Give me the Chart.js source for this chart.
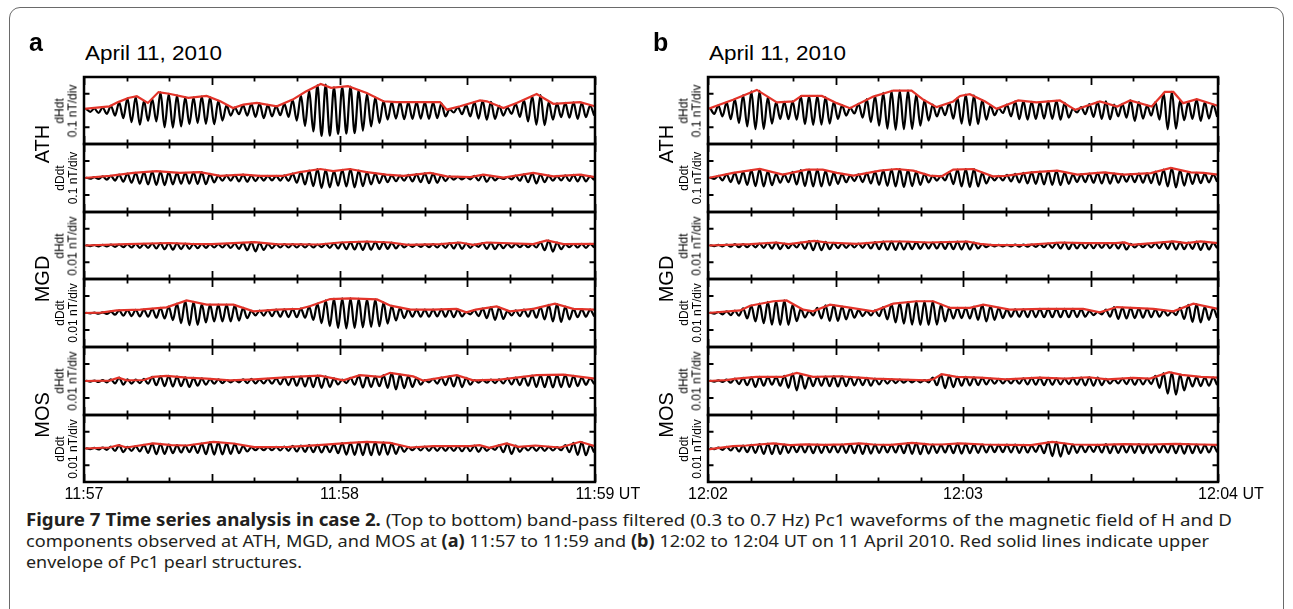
<!DOCTYPE html>
<html><head><meta charset="utf-8">
<script src="https://cdn.jsdelivr.net/npm/chart.js@4.4.0/dist/chart.umd.min.js"></script>
<style>
html,body{margin:0;padding:0;background:#fff;}
body{width:1293px;height:609px;position:relative;overflow:hidden;font-family:"Liberation Sans",Arial,sans-serif;color:#000;}
#frame{position:absolute;left:9px;top:7px;width:1275px;height:660px;border:1.5px solid #6a6a6a;border-radius:11px;box-sizing:border-box;}
canvas{position:absolute;}
.t{position:absolute;white-space:nowrap;line-height:1;}
.rot{position:absolute;white-space:nowrap;text-align:center;transform:translate(-50%,-50%) rotate(-90deg);}
.cl{position:absolute;left:26px;white-space:nowrap;font-family:"Noto Sans","Open Sans",sans-serif;font-size:17px;line-height:20px;color:#231f20;transform-origin:0 0;}
</style>
</head><body>
<div id="frame"></div>
<div class="cl" id="c1"><b>Figure 7 Time series analysis in case 2.</b> (Top to bottom) band-pass filtered (0.3 to 0.7 Hz) Pc1 waveforms of the magnetic field of H and D</div>
<div class="cl" id="c2">components observed at ATH, MGD, and MOS at <b>(a)</b> 11:57 to 11:59 and <b>(b)</b> 12:02 to 12:04 UT on 11 April 2010. Red solid lines indicate upper</div>
<div class="cl" id="c3">envelope of Pc1 pearl structures.</div>
<script>
// ---------- labels ----------
const dateLabel = 'April 11, 2010';
const stations = ['ATH', 'MGD', 'MOS'];
const compLabels = ['dHdt', 'dDdt', 'dHdt', 'dDdt', 'dHdt', 'dDdt'];
const divLabels = ['0.1 nT/div', '0.1 nT/div', '0.01 nT/div', '0.01 nT/div', '0.01 nT/div', '0.01 nT/div'];
const timeTickSec = [0, 60, 120];
const timeLabelsA = ['11:57', '11:58', '11:59'];
const timeLabelsB = ['12:02', '12:03', '12:04'];
const timeUnit = 'UT';
const yTicks = [-100, 100];           // +/- 1 division (values in 1/100 div)

// ---------- wave extrema (peak / trough of each cycle, 1/100 div) ----------
const a1Hi = [10,12,18,28,48,72,82,58,70,108,100,90,80,78,84,80,58,32,18,32,40,42,34,26,40,62,90,120,150,155,138,140,143,122,100,78,56,50,50,48,50,48,48,42,8,20,32,50,58,52,28,18,40,62,88,92,50,42,45,48,46,30];
const a1Lo = [-8,-15,-20,-30,-45,-70,-85,-62,-65,-100,-102,-95,-82,-75,-80,-82,-60,-30,-22,-30,-38,-45,-35,-28,-38,-60,-92,-125,-152,-150,-140,-138,-135,-120,-95,-75,-55,-48,-52,-50,-48,-50,-45,-35,-12,-22,-35,-48,-55,-50,-30,-20,-38,-65,-85,-88,-55,-40,-42,-50,-40,-30];
const a2Hi = [2,5,9,13,20,26,31,35,38,38,34,31,31,33,34,24,14,15,18,20,16,13,13,13,15,26,36,44,52,48,41,48,52,44,35,28,21,17,14,18,23,28,26,16,9,7,6,12,19,12,4,6,14,22,29,22,14,12,15,18,18,10];
const a2Lo = [-4,-6,-10,-15,-22,-28,-33,-38,-40,-42,-38,-33,-33,-35,-36,-26,-16,-16,-20,-22,-18,-15,-14,-15,-17,-28,-38,-48,-58,-55,-45,-50,-55,-48,-38,-30,-24,-19,-16,-20,-25,-30,-28,-18,-10,-8,-8,-14,-22,-14,-6,-8,-16,-25,-32,-25,-16,-14,-17,-20,-20,-12];
const a3Hi = [2,3,4,5,6,8,9,10,12,14,15,13,12,10,9,8,8,10,12,16,20,16,10,8,8,8,8,8,6,10,14,18,20,22,24,22,20,17,10,5,6,7,8,10,14,18,12,6,15,16,12,10,9,8,8,20,30,18,8,9,10,10];
const a3Lo = [-4,-5,-6,-8,-10,-12,-14,-14,-18,-22,-25,-22,-20,-16,-14,-12,-12,-15,-20,-28,-35,-26,-16,-12,-12,-12,-12,-12,-10,-14,-18,-22,-24,-26,-25,-22,-20,-18,-12,-8,-8,-10,-12,-14,-18,-20,-14,-8,-20,-22,-16,-12,-10,-10,-12,-28,-36,-22,-10,-12,-14,-12];
const a4Hi = [1,2,4,8,15,17,19,20,25,30,38,55,72,65,52,49,49,49,46,30,12,14,17,20,22,24,26,38,55,75,84,86,86,84,82,80,62,42,30,21,20,20,20,22,23,20,6,15,26,35,32,12,15,20,24,35,48,52,38,24,22,20];
const a4Lo = [-2,-4,-6,-10,-16,-18,-20,-22,-28,-32,-42,-60,-72,-70,-55,-50,-50,-50,-45,-30,-14,-15,-18,-22,-24,-25,-28,-40,-60,-78,-88,-90,-88,-85,-82,-78,-62,-44,-30,-22,-22,-22,-20,-22,-24,-20,-8,-18,-30,-40,-35,-14,-18,-22,-28,-38,-50,-52,-38,-25,-22,-20];
const a5Hi = [2,3,5,10,20,10,8,12,24,28,30,26,22,18,15,12,9,6,6,10,12,10,12,16,20,24,26,30,32,28,15,8,18,32,30,26,34,46,38,30,18,6,12,20,28,32,18,6,7,8,10,16,20,25,32,33,34,35,36,30,22,16];
const a5Lo = [-4,-6,-8,-14,-22,-15,-12,-16,-25,-30,-32,-30,-35,-28,-22,-16,-12,-8,-8,-12,-14,-14,-16,-20,-24,-28,-32,-36,-40,-35,-20,-12,-22,-38,-35,-30,-40,-50,-42,-35,-22,-8,-15,-24,-32,-36,-22,-10,-10,-12,-14,-20,-24,-28,-35,-36,-38,-36,-35,-30,-22,-18];
const a6Hi = [2,4,6,12,20,10,14,22,30,28,24,20,18,22,30,38,36,32,28,15,8,8,8,10,12,16,18,20,22,20,26,32,34,36,40,38,36,32,18,8,10,12,12,12,13,14,14,18,12,6,20,30,18,10,12,12,10,8,20,34,38,20];
const a6Lo = [-4,-6,-8,-15,-22,-14,-18,-26,-34,-32,-28,-24,-22,-26,-34,-36,-35,-32,-28,-18,-10,-10,-10,-12,-14,-18,-20,-22,-24,-22,-28,-36,-38,-40,-40,-38,-36,-32,-20,-10,-12,-14,-14,-14,-15,-16,-16,-20,-14,-8,-22,-32,-20,-12,-14,-14,-12,-10,-22,-38,-40,-24];
const b1Hi = [15,30,48,68,92,115,118,80,50,52,54,86,87,87,80,52,32,16,40,68,88,105,118,119,119,95,62,35,25,45,75,95,90,62,30,15,35,55,56,52,50,54,58,45,10,20,38,52,54,35,40,60,50,30,50,105,112,60,50,66,50,35];
const b1Lo = [-20,-35,-52,-75,-95,-112,-110,-78,-50,-52,-55,-82,-86,-84,-78,-50,-30,-18,-42,-70,-90,-108,-115,-112,-110,-90,-60,-35,-28,-48,-78,-88,-82,-55,-28,-15,-35,-52,-55,-50,-48,-50,-55,-42,-12,-22,-38,-50,-52,-35,-42,-62,-48,-30,-55,-112,-108,-58,-50,-62,-48,-38];
const b2Hi = [3,12,22,31,38,46,53,40,25,22,36,46,49,49,42,32,24,16,22,30,38,45,50,52,46,38,25,13,12,35,50,52,52,30,12,12,18,24,30,34,37,40,42,32,22,22,26,30,32,26,21,23,26,28,38,50,58,46,35,30,26,21];
const b2Lo = [-5,-14,-24,-33,-40,-48,-50,-42,-28,-25,-38,-48,-50,-50,-44,-34,-25,-18,-24,-32,-40,-46,-50,-52,-48,-40,-26,-15,-14,-36,-50,-52,-50,-32,-14,-14,-20,-26,-32,-35,-38,-40,-42,-34,-24,-24,-28,-32,-33,-28,-22,-24,-28,-30,-40,-50,-55,-45,-35,-30,-26,-22];
const b3Hi = [2,4,6,8,8,9,12,16,18,12,10,18,26,28,22,16,12,10,12,16,20,24,24,24,22,20,18,18,20,22,24,24,18,8,4,4,4,5,5,6,8,12,16,18,16,14,14,14,14,15,18,10,8,10,14,20,24,20,18,24,22,15];
const b3Lo = [-4,-5,-7,-10,-10,-11,-14,-18,-22,-16,-12,-20,-28,-28,-22,-16,-14,-12,-14,-18,-22,-25,-26,-24,-22,-20,-18,-18,-20,-22,-24,-24,-18,-10,-6,-6,-6,-7,-7,-8,-10,-14,-18,-22,-18,-16,-16,-15,-16,-18,-24,-12,-10,-12,-16,-20,-24,-22,-20,-26,-24,-16];
const b4Hi = [3,6,10,14,28,44,55,65,70,74,48,25,12,30,45,46,38,28,18,12,15,35,52,60,66,69,69,69,50,32,30,30,38,48,40,30,22,21,22,23,24,24,24,24,24,22,12,6,20,34,32,30,27,25,22,15,10,30,48,52,38,28];
const b4Lo = [-4,-8,-12,-16,-32,-50,-60,-68,-70,-70,-48,-26,-14,-32,-46,-46,-38,-28,-18,-14,-18,-38,-55,-62,-68,-70,-70,-68,-50,-32,-30,-32,-40,-50,-40,-30,-22,-22,-24,-24,-25,-25,-25,-25,-24,-22,-12,-8,-22,-35,-32,-30,-28,-25,-22,-16,-12,-35,-52,-55,-40,-28];
const b5Hi = [2,4,8,14,18,22,24,24,24,30,44,40,26,25,26,28,28,24,20,18,14,12,10,8,7,6,5,20,38,32,24,24,22,18,14,12,10,12,16,18,20,18,16,14,18,20,22,20,12,10,14,18,16,14,30,46,50,38,26,24,22,20];
const b5Lo = [-4,-6,-10,-18,-25,-35,-28,-22,-28,-40,-55,-45,-30,-28,-30,-32,-30,-26,-24,-28,-20,-15,-12,-10,-8,-8,-8,-25,-42,-36,-28,-26,-24,-20,-16,-14,-14,-16,-20,-22,-24,-22,-20,-18,-22,-26,-28,-24,-16,-14,-18,-22,-20,-18,-40,-75,-80,-55,-32,-30,-28,-24];
const b6Hi = [2,6,10,14,18,22,26,30,30,24,20,22,24,24,22,22,24,26,30,28,24,22,22,26,32,34,28,24,22,26,30,28,26,24,22,22,24,24,22,18,24,38,40,30,24,20,18,22,26,24,22,24,26,24,22,22,26,28,26,24,22,20];
const b6Lo = [-4,-8,-12,-18,-22,-26,-32,-34,-32,-26,-22,-24,-28,-26,-24,-24,-26,-28,-32,-30,-26,-24,-24,-28,-32,-34,-30,-26,-24,-28,-30,-28,-26,-24,-22,-22,-24,-26,-24,-20,-28,-45,-48,-32,-26,-22,-20,-24,-28,-26,-24,-26,-28,-26,-24,-24,-28,-30,-28,-26,-24,-22];

// ---------- red upper envelopes [seconds, 1/100 div] ----------
const a1Env = [[0,10],[6,25],[8,50],[10.4,75],[12.4,85],[15,45],[17.5,110],[20,100],[24.5,75],[28.8,87],[32,55],[35,15],[37.4,35],[40.6,45],[45.3,25],[49,65],[52,112],[55.6,158],[58,135],[62,145],[66.4,105],[70.3,55],[73.4,50],[78,50],[83.6,50],[85.2,5],[88.3,25],[93,60],[94.6,55],[98.5,15],[101.6,45],[106.3,98],[110.2,40],[116.5,50],[120,25]];
const a2Env = [[0,0],[6,13],[11.6,30],[17,40],[22.5,30],[27.2,35],[32,13],[37.4,20],[41.3,13],[46.8,13],[50.7,35],[55.5,53],[58.5,40],[62.4,53],[66.4,35],[71,20],[75,13],[81.3,30],[85.2,10],[90.7,5],[93.8,20],[98.5,2],[105.5,30],[110.2,10],[116.5,20],[120,5]];
const a3Env = [[0,0],[10,8],[20,15],[25,10],[30,8],[40,20],[45,8],[55,6],[60.1,18],[66.4,24],[72,18],[76,4],[83.6,8],[88.3,18],[91.4,4],[94.6,18],[105.5,8],[108.7,30],[112.6,8],[120,10]];
const a4Env = [[0,0],[4,2],[7.7,15],[13.2,20],[19.4,33],[24.1,74],[28.8,49],[35.1,49],[39.8,10],[45.3,20],[50.7,25],[53,40],[57.8,82],[62.5,86],[68.8,80],[72,43],[76.7,20],[82,20],[87.5,24],[89.8,4],[92,20],[96.9,39],[100,10],[105.5,24],[110.6,55],[114.9,24],[120,20]];
const a5Env = [[0,0],[6,2],[8.1,20],[10,4],[14,6],[16.3,24],[19.4,30],[24.1,20],[28.8,14],[34.3,4],[40,10],[49.1,24],[55.4,32],[60.9,4],[64.8,34],[69.5,24],[71.9,48],[77.3,27],[79.7,2],[87.5,34],[91.4,4],[97.7,8],[106.3,34],[112.6,37],[120,14]];
const a6Env = [[0,0],[6,6],[8.1,20],[10,6],[16.3,30],[20.5,20],[24.1,18],[30.4,39],[35.1,30],[40,8],[48,10],[52,16],[55,20],[62.4,34],[66.4,40],[71.9,34],[76.6,6],[82,14],[90.6,14],[92.9,20],[95.2,4],[99.2,30],[102,10],[106,18],[111.8,6],[116.5,40],[120,14]];
const b1Env = [[0,9],[5.9,64],[11.5,123],[16.2,48],[20.1,54],[22,87],[26.8,87],[30.3,44],[33.4,14],[38.9,83],[43.6,119],[47.9,119],[50.7,64],[53.8,20],[57.7,54],[59.3,87],[61.6,97],[65.2,54],[67.9,10],[73,60],[77.3,48],[82.8,60],[86.4,4],[92.2,54],[96.3,24],[99.3,60],[104.4,24],[107.5,111],[109.5,111],[111.8,44],[115,68],[120,28]];
const b2Env = [[0,0],[5.9,30],[12.2,53],[17.6,20],[23.2,49],[27,49],[30.3,30],[34.2,14],[40.5,43],[44.4,53],[48.3,43],[52.2,14],[55,10],[57.7,49],[62.4,53],[67,10],[70,12],[76,33],[82.2,43],[86.9,20],[93.2,33],[97.9,20],[104.2,29],[108.9,59],[113.6,33],[116.6,30],[120,20]];
const b3Env = [[0,0],[10,8],[16,18],[19,8],[25,28],[28,18],[35,10],[42,24],[46,24],[52,18],[61,24],[64,10],[67,2],[75,4],[83,18],[89,14],[95.9,14],[98,18],[99.6,4],[109.5,24],[112.6,14],[115.9,24],[120,14]];
const b4Env = [[0,0],[7.6,15],[9.9,43],[15.4,69],[18.5,74],[22.4,20],[24.7,10],[28.7,49],[32.6,35],[38.9,10],[43.6,55],[49.1,69],[53,69],[57,30],[61.6,30],[64.8,49],[71,20],[78.9,24],[88.3,24],[92.2,4],[96.2,35],[104.8,24],[109.5,10],[114.2,55],[120,24]];
const b5Env = [[0,0],[4.3,5],[6.7,14],[11.4,24],[17.6,24],[20.9,48],[24.7,24],[31,28],[35.7,20],[38.9,14],[45.9,8],[51.4,4],[53,10],[55,40],[58.5,24],[64,20],[70,10],[78,20],[84,14],[89.5,22],[94,10],[100,18],[104,14],[108.5,52],[111.5,36],[116,24],[120,20]];
const b6Env = [[0,-5],[5.9,14],[9,18],[15.4,30],[19.3,20],[23,25],[27.5,22],[32,25],[35.7,30],[38.9,24],[43,22],[48,34],[52,25],[55,24],[59.2,30],[65,24],[70,22],[76,20],[81,40],[86,24],[92,22],[98,26],[104,24],[110,28],[116,24],[120,22]];

// ---------- layout ----------
const ROWS = [77, 144, 212, 279, 347, 415, 482];
const CYCLE_START = 0.5, HALF_PERIOD = 0.97;
const RED = '#e3342a';

const panels = [
  {letter: 'a', left: 84, width: 511, times: timeLabelsA,
   subs: [[a1Hi,a1Lo,a1Env],[a2Hi,a2Lo,a2Env],[a3Hi,a3Lo,a3Env],[a4Hi,a4Lo,a4Env],[a5Hi,a5Lo,a5Env],[a6Hi,a6Lo,a6Env]]},
  {letter: 'b', left: 708, width: 510, times: timeLabelsB,
   subs: [[b1Hi,b1Lo,b1Env],[b2Hi,b2Lo,b2Env],[b3Hi,b3Lo,b3Env],[b4Hi,b4Lo,b4Env],[b5Hi,b5Lo,b5Env],[b6Hi,b6Lo,b6Env]]}
];

function wavePoints(hi, lo) {
  const pts = [];
  for (let i = 0; i < hi.length; i++) {
    const t = CYCLE_START + 2 * HALF_PERIOD * i;
    pts.push({x: t, y: hi[i]});
    pts.push({x: t + HALF_PERIOD, y: lo[i]});
  }
  return pts;
}

const frameTicks = {
  id: 'frameTicks',
  afterDatasetsDraw(chart, args, o) {
    const {ctx, chartArea: a, scales: {x, y}} = chart;
    ctx.save();
    ctx.strokeStyle = '#000';
    ctx.lineCap = 'butt';
    ctx.lineWidth = 1.8;
    ctx.beginPath();
    for (let s = 0; s <= 120; s += 10) {
      const px = Math.round(x.getPixelForValue(s)) + 0.5;
      const L = (s % 30 === 0) ? 8 : 4.5;
      ctx.moveTo(px, a.top); ctx.lineTo(px, a.top + L);
      ctx.moveTo(px, a.bottom); ctx.lineTo(px, a.bottom - L);
    }
    yTicks.forEach(v => {
      const py = y.getPixelForValue(v);
      ctx.moveTo(a.left, py); ctx.lineTo(a.left + 5.5, py);
      ctx.moveTo(a.right, py); ctx.lineTo(a.right - 5.5, py);
    });
    ctx.stroke();
    ctx.lineWidth = 2.5;
    ctx.strokeRect(a.left, a.top, a.right - a.left, a.bottom - a.top);
    if (o.labels) {
      ctx.font = '16px "Liberation Sans", Arial, sans-serif';
      ctx.fillStyle = '#000';
      ctx.textAlign = 'left';
      ctx.textBaseline = 'alphabetic';
      o.labels.forEach((lab, i) => {
        const px = x.getPixelForValue(timeTickSec[i]);
        const w = ctx.measureText(lab).width;
        const txt = (i === o.labels.length - 1) ? lab + ' ' + timeUnit : lab;
        ctx.fillText(txt, px - w / 2, a.bottom + 17);
      });
    }
    ctx.restore();
  }
};

function addText(cls, html, css) {
  const d = document.createElement('div');
  d.className = cls; d.innerHTML = html;
  Object.assign(d.style, css);
  document.body.appendChild(d);
  return d;
}

panels.forEach(p => {
  p.subs.forEach((s, k) => {
    const top = ROWS[k], bottom = ROWS[k + 1];
    const isBottom = k === 5;
    const pad = {left: isBottom ? 40 : 6, right: isBottom ? 80 : 6, top: 6, bottom: isBottom ? 30 : 6};
    const w = p.width + pad.left + pad.right, h = bottom - top + pad.top + pad.bottom;
    const cv = document.createElement('canvas');
    cv.width = w; cv.height = h;
    Object.assign(cv.style, {left: (p.left - pad.left) + 'px', top: (top - pad.top) + 'px', width: w + 'px', height: h + 'px'});
    document.body.appendChild(cv);
    new Chart(cv, {
      type: 'line',
      data: {datasets: [
        {data: s[2].map(q => ({x: q[0], y: q[1]})), borderColor: RED, borderWidth: 2.2, pointRadius: 0, tension: 0, fill: false},
        {data: wavePoints(s[0], s[1]), borderColor: '#000', borderWidth: 2.2, pointRadius: 0, tension: 0.4, cubicInterpolationMode: 'monotone', fill: false}
      ]},
      options: {
        responsive: false, maintainAspectRatio: false, animation: false, devicePixelRatio: 1, events: [],
        layout: {padding: pad},
        scales: {
          x: {type: 'linear', min: 0, max: 120, display: false},
          y: {type: 'linear', min: -200, max: 200, display: false}
        },
        plugins: {legend: {display: false}, tooltip: {enabled: false},
          frameTicks: {labels: isBottom ? p.times : null}}
      },
      plugins: [frameTicks]
    });
    // side labels
    const cy = (top + bottom) / 2;
    addText('rot', compLabels[k] + '<br>' + divLabels[k],
      {left: (p.left - 18) + 'px', top: cy + 'px', fontSize: '12px', lineHeight: '12.5px'});
    if (k % 2 === 1) {
      addText('rot', stations[(k - 1) / 2], {left: (p.left - 42) + 'px', top: top + 'px', fontSize: '20px', lineHeight: '20px'});
    }
  });
  addText('t', p.letter, {left: (p.left - 55) + 'px', top: '30px', fontSize: '25px', fontWeight: 'bold'});
  const dl = addText('t', dateLabel, {left: (p.left + 1) + 'px', top: '43px', fontSize: '20px', transformOrigin: '0 0'});
  dl.dataset.fit = 137;
});

// fit text widths
document.querySelectorAll('[data-fit]').forEach(el => {
  const r = el.getBoundingClientRect().width;
  el.style.transform = 'scaleX(' + (el.dataset.fit / r) + ')';
});
const capFit = [['c1', 510, 1206], ['c2', 531, 1183], ['c3', 552, 276]];
capFit.forEach(([id, top, wid]) => {
  const el = document.getElementById(id);
  el.style.top = top + 'px';
  const r = el.getBoundingClientRect().width;
  el.style.transform = 'scaleX(' + (wid / r) + ')';
});
</script>
</body></html>
